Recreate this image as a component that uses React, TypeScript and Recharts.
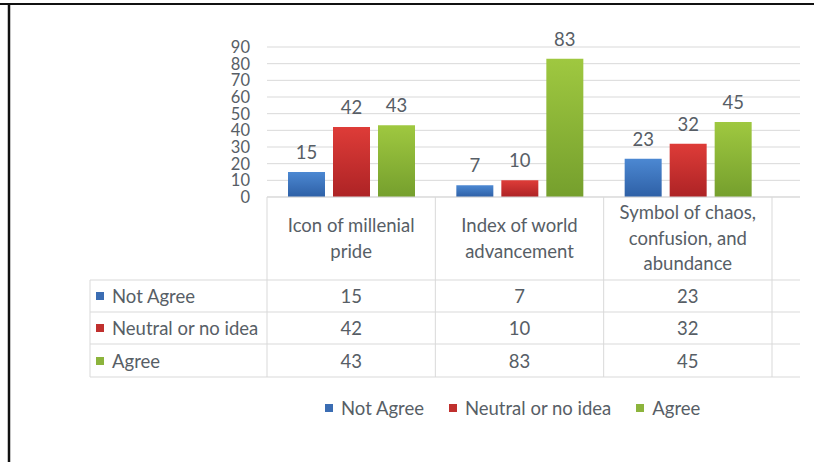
import { BarChart, Bar, XAxis, YAxis, CartesianGrid, LabelList, Text } from 'recharts'

const categories = ['Icon of millenial pride', 'Index of world advancement', 'Symbol of chaos, confusion, and abundance']
const notAgree = [15, 7, 23]
const neutral = [42, 10, 32]
const agree = [43, 83, 45]
const yTicks = [0, 10, 20, 30, 40, 50, 60, 70, 80, 90]

const seriesNames = ['Not Agree', 'Neutral or no idea', 'Agree']
const seriesKeys = ['notAgree', 'neutral', 'agree']
const seriesValues = [notAgree, neutral, agree]
const swatch = ['#3b6db3', '#c0302e', '#8cb43c']
const grads = [
  ['#4c88d2', '#2e60a6'],
  ['#de3c38', '#ad2325'],
  ['#9fc840', '#759f2d'],
]

const data = categories.map((name, i) => ({
  name,
  notAgree: notAgree[i],
  neutral: neutral[i],
  agree: agree[i],
}))

const TEXT = '#575e66'
const LINE = '#d9d9d9'
const FONT = 'Lato, "Noto Sans", sans-serif'
const FS = 18.5

// offsets below the x axis line (y = 197)
const rowLines = [83, 115, 147, 180]
const rowMid = [99, 131, 164]

function CategoryTick(props: any) {
  const { x, y, payload } = props
  const half = payload.offset || 84
  const i = payload.index
  return (
    <g>
      <line x1={x - half} y1={y} x2={x - half} y2={y + rowLines[3]} stroke={LINE} />
      {i === categories.length - 1 && (
        <line x1={x + half} y1={y} x2={x + half} y2={y + rowLines[3]} stroke={LINE} />
      )}
      <Text
        x={x}
        y={y + 41}
        width={145}
        textAnchor="middle"
        verticalAnchor="middle"
        lineHeight="1.4em"
        fontSize={FS}
        fill={TEXT}
        fontFamily={FONT}
        style={{ fontSize: FS, fontFamily: FONT }}
      >
        {payload.value}
      </Text>
      {seriesValues.map((vals, k) => (
        <text
          key={k}
          x={x}
          y={y + rowMid[k]}
          textAnchor="middle"
          dominantBaseline="central"
          fontSize={FS}
          fill={TEXT}
          fontFamily={FONT}
        >
          {vals[i]}
        </text>
      ))}
    </g>
  )
}

export default function App() {
  return (
    <div style={{ position: 'absolute', left: 0, top: 0, width: 816, height: 462, background: '#fff', fontFamily: FONT }}>
      <BarChart
        width={816}
        height={462}
        data={data}
        margin={{ top: 47, right: 16, left: 0, bottom: 0 }}
        barSize={37}
        barGap={8}
      >
        <defs>
          {grads.map((g, k) => (
            <linearGradient key={k} id={`g${k}`} x1="0" y1="0" x2="0" y2="1">
              <stop offset="0%" stopColor={g[0]} />
              <stop offset="100%" stopColor={g[1]} />
            </linearGradient>
          ))}
        </defs>
        <CartesianGrid vertical={false} stroke={LINE} />
        <XAxis
          dataKey="name"
          height={265}
          interval={0}
          tickSize={0}
          tickMargin={0}
          tickLine={false}
          axisLine={{ stroke: LINE }}
          padding={{ left: 0, right: 28 }}
          tick={<CategoryTick />}
        />
        <YAxis
          width={267}
          domain={[0, 90]}
          ticks={yTicks}
          interval={0}
          tickSize={0}
          tickMargin={17}
          axisLine={false}
          tickLine={false}
          tick={{ fontSize: 16.5, fill: TEXT, fontFamily: FONT }}
        />
        {seriesKeys.map((key, k) => (
          <Bar key={key} dataKey={key} name={seriesNames[k]} fill={`url(#g${k})`} isAnimationActive={false}>
            <LabelList dataKey={key} position="top" offset={13} fontSize={18.5} fill={TEXT} fontFamily={FONT} />
          </Bar>
        ))}
      </BarChart>

      <svg width={816} height={462} style={{ position: 'absolute', left: 0, top: 0, pointerEvents: 'none' }}>
        {rowLines.map((d) => (
          <line key={d} x1={90} y1={197 + d} x2={800} y2={197 + d} stroke={LINE} />
        ))}
        <line x1={90} y1={197 + rowLines[0]} x2={90} y2={197 + rowLines[3]} stroke={LINE} />
        {seriesNames.map((n, k) => (
          <g key={n}>
            <rect x={96} y={197 + rowMid[k] - 4} width={8} height={8} fill={swatch[k]} />
            <text x={112} y={197 + rowMid[k]} dominantBaseline="central" fontSize={FS} fill={TEXT} fontFamily={FONT}>
              {n}
            </text>
          </g>
        ))}
        <line x1={0} y1={4} x2={814} y2={4} stroke="#111" strokeWidth={2} />
        <line x1={9} y1={4} x2={9} y2={462} stroke="#111" strokeWidth={2.5} />
      </svg>

      <div
        style={{
          position: 'absolute',
          left: 325,
          top: 397,
          display: 'flex',
          alignItems: 'center',
          gap: 25,
          fontSize: FS,
          color: TEXT,
          fontFamily: FONT,
          whiteSpace: 'nowrap',
        }}
      >
        {seriesNames.map((n, k) => (
          <div key={n} style={{ display: 'flex', alignItems: 'center' }}>
            <span style={{ width: 8, height: 8, background: swatch[k], marginRight: 8, display: 'inline-block' }} />
            {n}
          </div>
        ))}
      </div>
    </div>
  )
}
